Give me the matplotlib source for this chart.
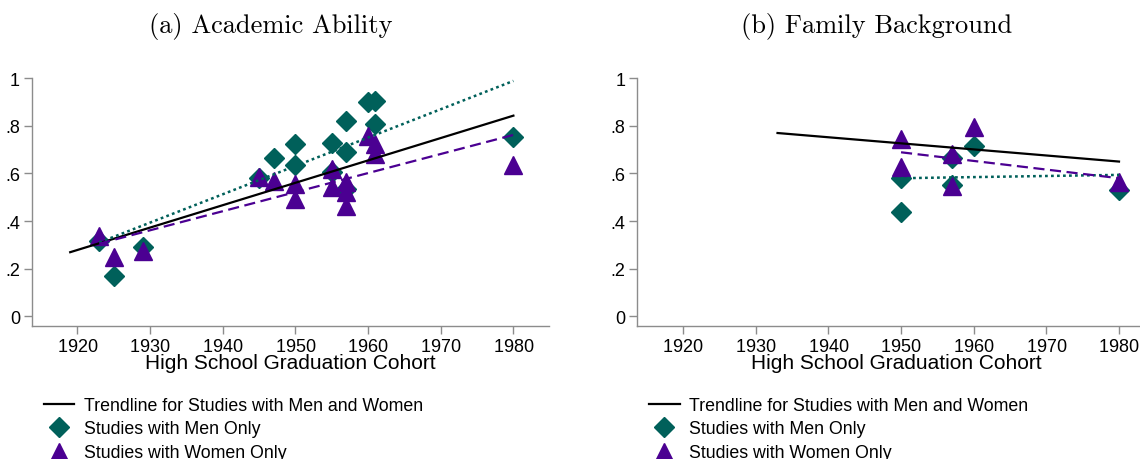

# cohort trends: academic ability vs family background

import numpy as np
import matplotlib.pyplot as plt
from matplotlib.lines import Line2D

plt.rcParams['font.family'] = ['Liberation Sans', 'DejaVu Sans']
plt.rcParams['axes.formatter.use_mathtext'] = True

####################### data
# (a) academic ability
a_men_x = [1923, 1925, 1929, 1945, 1947, 1950, 1950, 1955, 1955, 1957, 1957, 1957, 1960, 1961, 1961, 1980]
a_men_y = [0.318, 0.171, 0.29, 0.581, 0.664, 0.724, 0.636, 0.728, 0.608, 0.822, 0.689, 0.535, 0.899, 0.906, 0.808, 0.752]
a_wom_x = [1923, 1925, 1929, 1945, 1947, 1950, 1950, 1955, 1955, 1957, 1957, 1957, 1960, 1961, 1961, 1980]
a_wom_y = [0.339, 0.25, 0.275, 0.584, 0.57, 0.556, 0.493, 0.619, 0.542, 0.563, 0.524, 0.465, 0.756, 0.724, 0.682, 0.636]
a_trend_x = [1919, 1980]
a_trend_y = [0.269, 0.843]
a_men_fit_x = [1923, 1980]
a_men_fit_y = [0.31, 0.989]
a_wom_fit_x = [1923, 1980]
a_wom_fit_y = [0.305, 0.762]

# (b) family background
b_men_x = [1950, 1950, 1957, 1957, 1960, 1980]
b_men_y = [0.58, 0.437, 0.664, 0.552, 0.717, 0.532]
b_wom_x = [1950, 1950, 1957, 1957, 1960, 1980]
b_wom_y = [0.745, 0.626, 0.682, 0.549, 0.794, 0.563]
b_trend_x = [1933, 1980]
b_trend_y = [0.770, 0.650]
b_men_fit_x = [1950, 1980]
b_men_fit_y = [0.58, 0.594]
b_wom_fit_x = [1950, 1980]
b_wom_fit_y = [0.689, 0.580]

xticks = [1920, 1930, 1940, 1950, 1960, 1970, 1980]
yticks = [0, 0.2, 0.4, 0.6, 0.8, 1.0]
ylabels = ["0", ".2", ".4", ".6", ".8", "1"]

green = "#00605A"
purple = "#4B0092"
gray = "#8c8c8c"
W, H = 1140.0, 460.0

def panel(ax, trend, men, wom, men_fit, wom_fit):
    ax.plot(trend[0], trend[1], color="black", lw=1.6, zorder=3)
    ax.plot(men[0], men[1], ls="none", marker="D", ms=10.5, color=green, zorder=2)
    ax.plot(wom[0], wom[1], ls="none", marker="^", ms=13, color=purple, zorder=2)
    ax.plot(men_fit[0], men_fit[1], color=green, lw=1.8, ls=(0, (1.1, 1.3)), zorder=3)
    ax.plot(wom_fit[0], wom_fit[1], color=purple, lw=1.6, ls=(0, (5, 2.5)), zorder=3)
    ax.set_xlim(1913.7, 1984.9)
    ax.set_ylim(-0.04, 1.0)
    ax.set_xticks(xticks)
    ax.set_yticks(yticks)
    ax.set_yticklabels(ylabels)
    for s in ["top", "right"]:
        ax.spines[s].set_visible(False)
    for s in ["left", "bottom"]:
        ax.spines[s].set_color(gray)
        ax.spines[s].set_linewidth(1.0)
    ax.tick_params(axis="both", color=gray, length=5.5, width=1.0, labelsize=13, pad=3)
    ax.set_xlabel("High School Graduation Cohort", fontsize=15, labelpad=-1)
    handles = [Line2D([], [], color="black", lw=1.6),
               Line2D([], [], ls="none", marker="D", ms=10, color=green),
               Line2D([], [], ls="none", marker="^", ms=12, color=purple)]
    labels = ["Trendline for Studies with Men and Women",
              "Studies with Men Only",
              "Studies with Women Only"]
    x0 = ax.get_position().x0 + 12 / W
    ax.legend(handles, labels, loc="upper left", bbox_to_anchor=(x0, 1 - 398 / H),
              bbox_transform=fig.transFigure,
              frameon=False, fontsize=12.8, handlelength=1.7, handletextpad=0.55,
              labelspacing=0.36, borderaxespad=0, borderpad=0)

fig = plt.figure(figsize=(11.4, 4.6), dpi=100)
ax1 = fig.add_axes([31.7 / W, 1 - 326.7 / H, 517.3 / W, 247.4 / H])
ax2 = fig.add_axes([637.3 / W, 1 - 326.7 / H, 517.3 / W, 247.4 / H])

panel(ax1, (a_trend_x, a_trend_y), (a_men_x, a_men_y),
      (a_wom_x, a_wom_y), (a_men_fit_x, a_men_fit_y), (a_wom_fit_x, a_wom_fit_y))
panel(ax2, (b_trend_x, b_trend_y), (b_men_x, b_men_y),
      (b_wom_x, b_wom_y), (b_men_fit_x, b_men_fit_y), (b_wom_fit_x, b_wom_fit_y))

fig.text(271 / W, 1 - 27 / H, "(a) Academic Ability", family="cmr10", fontsize=19,
         ha="center", va="center")
fig.text(877 / W, 1 - 27 / H, "(b) Family Background", family="cmr10", fontsize=19,
         ha="center", va="center")

fig.savefig("out.png", dpi=100)
